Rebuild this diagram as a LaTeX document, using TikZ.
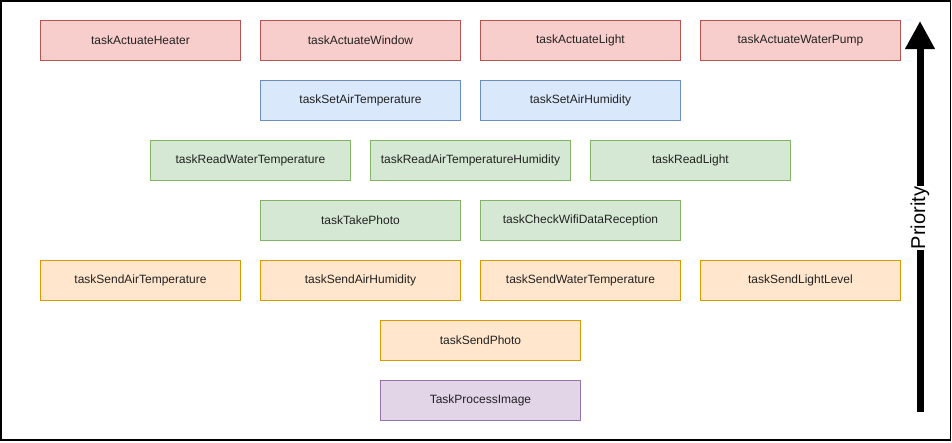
\documentclass[tikz,border=0pt]{standalone}
\usepackage{fontspec}
\setmainfont{Liberation Sans}
\usetikzlibrary{arrows.meta}
\definecolor{redF}{HTML}{F8CECC}\definecolor{redD}{HTML}{B85450}
\definecolor{bluF}{HTML}{DAE8FC}\definecolor{bluD}{HTML}{6C8EBF}
\definecolor{grnF}{HTML}{D5E8D4}\definecolor{grnD}{HTML}{82B366}
\definecolor{orgF}{HTML}{FFE6CC}\definecolor{orgD}{HTML}{D79B00}
\definecolor{purF}{HTML}{E1D5E7}\definecolor{purD}{HTML}{9673A6}
\definecolor{txt}{HTML}{222222}
\tikzset{
  task/.style={draw, line width=0.9pt, minimum width=200pt, minimum height=40pt, inner sep=0pt, anchor=north west, font=\fontsize{12}{14}\selectfont, text=txt},
  actuate/.style={task, fill=redF, draw=redD},
  setter/.style={task, fill=bluF, draw=bluD},
  reader/.style={task, fill=grnF, draw=grnD},
  sender/.style={task, fill=orgF, draw=orgD},
  proc/.style={task, fill=purF, draw=purD},
}
\begin{document}
\begin{tikzpicture}[x=1pt,y=-1pt]
\useasboundingbox (0,0) rectangle (952,442);
\draw[line width=1.5pt] (1,1) rectangle (950.5,440);
\node[actuate] (heater) at (40,20) {taskActuateHeater};
\node[actuate] (window) at (260,20) {taskActuateWindow};
\node[actuate] (light) at (480,20) {taskActuateLight};
\node[actuate] (pump) at (700,20) {taskActuateWaterPump};
\node[setter] (setTemp) at (260,80) {taskSetAirTemperature};
\node[setter] (setHum) at (480,80) {taskSetAirHumidity};
\node[reader] (readWater) at (150,140) {taskReadWaterTemperature};
\node[reader] (readAir) at (370,140) {taskReadAirTemperatureHumidity};
\node[reader] (readLight) at (590,140) {taskReadLight};
\node[reader] (photo) at (260,200) {taskTakePhoto};
\node[reader] (wifi) at (480,200) {taskCheckWifiDataReception};
\node[sender] (sendTemp) at (40,260) {taskSendAirTemperature};
\node[sender] (sendHum) at (260,260) {taskSendAirHumidity};
\node[sender] (sendWater) at (480,260) {taskSendWaterTemperature};
\node[sender] (sendLight) at (700,260) {taskSendLightLevel};
\node[sender] (sendPhoto) at (380,320) {taskSendPhoto};
\node[proc] (process) at (380,380) {TaskProcessImage};
\coordinate (arrLow) at (920,412);
\coordinate (arrHigh) at (920,21);
\draw[line width=7pt, -{Triangle[width=28pt,length=28pt]}] (arrLow) -- (arrHigh);
\node[fill=white, rotate=90, inner sep=1pt, font=\fontsize{20}{22}\selectfont] (prio) at (920,218) {Priority};
\end{tikzpicture}
\end{document}
